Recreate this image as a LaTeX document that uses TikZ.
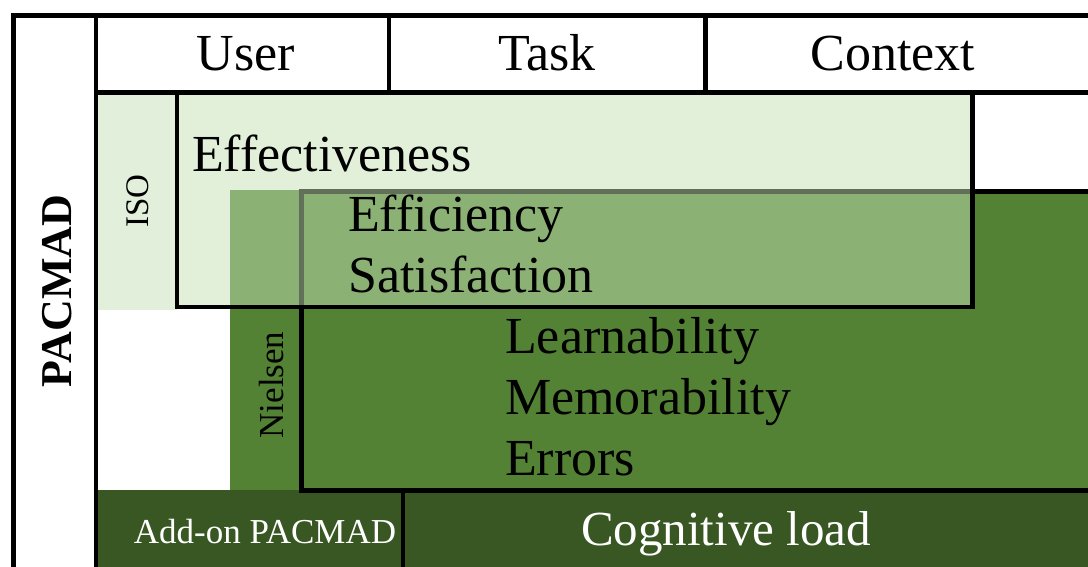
\documentclass[tikz,border=0pt]{standalone}
\usepackage{fontspec}
\setmainfont{Liberation Serif}
\definecolor{isolight}{HTML}{E2EFDA}
\definecolor{effill}{HTML}{C5E0B4}
\definecolor{nielsengreen}{HTML}{548235}
\definecolor{addongreen}{HTML}{385723}
\tikzset{
  frame/.style={line width=4.5pt, draw=black},
  bigtxt/.style={font=\fontsize{52}{60}\selectfont, inner sep=0pt},
  midtxt/.style={font=\fontsize{35}{40}\selectfont, inner sep=0pt},
}
\begin{document}
\begin{tikzpicture}[x=1pt,y=-1pt]
\useasboundingbox (0,0) rectangle (1088,566);
\clip (0,0) rectangle (1088,566);
% fills
\fill[isolight] (96,92) rectangle (177,310);
\fill[nielsengreen] (230,190) rectangle (1100,490);
\fill[addongreen] (96,490) rectangle (1100,570);
% Nielsen box border and bottom separator
\draw[frame] (1100,191.5) -- (301.5,191.5) -- (301.5,490.5) -- (1100,490.5);
\draw[frame] (403,490) -- (403,570);
% ISO effectiveness box (translucent)
\path[frame, fill=effill, fill opacity=0.5] (177,92.5) rectangle (972.5,307);
% outer frame and header
\draw[frame] (13.5,570) -- (13.5,15.5) -- (1100,15.5);
\draw[frame] (96,15) -- (96,570);
\draw[frame] (96,92.5) -- (1100,92.5);
\draw[frame] (389,15) -- (389,92.5);
\draw[frame] (705.5,15) -- (705.5,92.5);
% texts
\node[bigtxt, anchor=base] (user) at (246,70) {User};
\node[bigtxt, anchor=base] (task) at (547,70) {Task};
\node[bigtxt, anchor=base] (context) at (893,70) {Context};
\node[bigtxt, anchor=base west] (eff) at (192,171) {Effectiveness};
\node[bigtxt, anchor=base west] (effi) at (348,231) {Efficiency};
\node[bigtxt, anchor=base west] (sat) at (348,292) {Satisfaction};
\node[bigtxt, anchor=base west] (learn) at (505,353) {Learnability};
\node[bigtxt, anchor=base west] (mem) at (505,414) {Memorability};
\node[bigtxt, anchor=base west] (err) at (505,475) {Errors};
\node[midtxt, white, anchor=base] (addon) at (265,543) {Add-on PACMAD};
\node[inner sep=0pt, white, font=\fontsize{49}{56}\selectfont, anchor=base] (cog) at (726,545) {Cognitive load};
\node[inner sep=0pt, font=\bfseries\fontsize{44}{50}\selectfont, rotate=90, anchor=base] (pacmad) at (71,291) {PACMAD};
\node[inner sep=0pt, font=\fontsize{33}{40}\selectfont, rotate=90, anchor=base] (iso) at (148,201) {ISO};
\node[midtxt, rotate=90, anchor=base] (niel) at (283,385) {Nielsen};
\end{tikzpicture}
\end{document}
